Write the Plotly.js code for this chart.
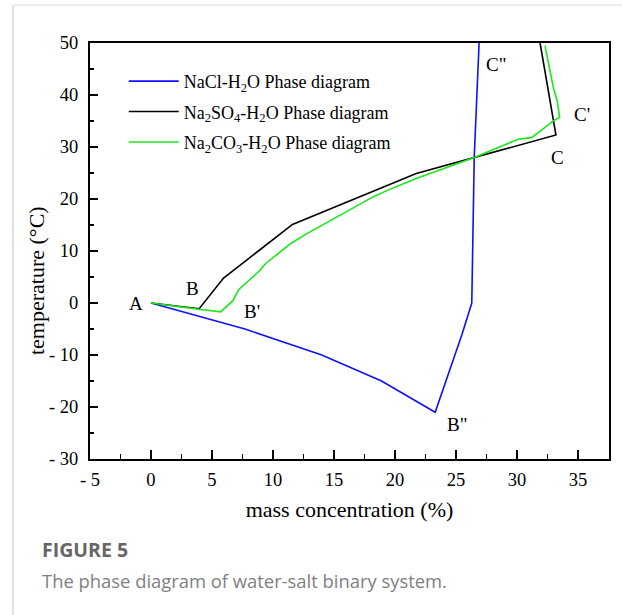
<!DOCTYPE html>
<html>
<head>
<meta charset="utf-8">
<script src="https://cdn.plot.ly/plotly-3.0.1.min.js"></script>
<style>
html,body{margin:0;padding:0;background:#fff;}
#chart{width:622px;height:615px;}
</style>
</head>
<body>
<div id="chart"></div>
<script>
// NaCl-H2O
const naclX = [0, 7.7, 14.0, 18.9, 23.3, 25.5, 26.3, 26.5, 26.9];
const naclY = [0, -5.0, -10.0, -15.0, -21.0, -6.0, 0.0, 28.0, 50.0];
// Na2SO4-H2O
const so4X = [0, 3.95, 5.95, 11.6, 21.75, 26.5, 33.2, 31.9];
const so4Y = [0, -1.1, 4.8, 15.1, 24.9, 28.0, 32.3, 50.0];
// Na2CO3-H2O
const co3X = [0, 2.2, 3.9, 5.7, 6.7, 7.2, 8.9, 9.4, 11.5, 12.6, 18.2, 19.6, 21.8, 26.5, 28.7, 30.1, 31.2, 33.1, 33.5, 33.3, 33.0, 32.3];
const co3Y = [0, -0.6, -1.2, -1.7, 0.4, 2.6, 6.2, 7.6, 11.5, 13.1, 20.4, 21.9, 24.0, 28.0, 30.1, 31.5, 31.8, 35.2, 35.7, 38.9, 41.3, 49.5];

const seriesNames = ["NaCl-H<sub>2</sub>O Phase diagram", "Na<sub>2</sub>SO<sub>4</sub>-H<sub>2</sub>O Phase diagram", "Na<sub>2</sub>CO<sub>3</sub>-H<sub>2</sub>O Phase diagram"];

const xTickVals = [-5, 0, 5, 10, 15, 20, 25, 30, 35];
const xTickText = ["- 5", "0", "5", "10", "15", "20", "25", "30", "35"];
const yTickVals = [-30, -20, -10, 0, 10, 20, 30, 40, 50];
const yTickText = ["- 30", "- 20", "- 10", "0", "10", "20", "30", "40", "50"];

const pointLabels = ["A", "B", "B'", "B\"", "C\"", "C'", "C"];
const pointLabelX = [-1.2, 3.4, 8.3, 25.1, 28.3, 35.3, 33.3];
const pointLabelY = [0, 2.8, -1.6, -23.3, 45.8, 36.2, 28.0];

const serif = "Liberation Serif, Times New Roman, serif";
const sans = "Open Sans, Noto Sans, sans-serif";

const traces = [
  {x: naclX, y: naclY, name: seriesNames[0], legendgroup: "g1", mode: "lines", line: {color: "#1010ff", width: 1.6}},
  {x: so4X, y: so4Y, name: seriesNames[1], legendgroup: "g2", mode: "lines", line: {color: "#000000", width: 1.6}},
  {x: co3X, y: co3Y, name: seriesNames[2], legendgroup: "g3", mode: "lines", line: {color: "#18e818", width: 1.6}}
];

const annotations = pointLabels.map((t, i) => ({
  x: pointLabelX[i], y: pointLabelY[i], xref: "x", yref: "y", text: t, showarrow: false,
  font: {family: serif, size: 19, color: "#000"}
}));
annotations.push({
  xref: "paper", yref: "paper", x: -0.102, y: 0.428, xanchor: "center", yanchor: "middle", textangle: -90,
  text: "temperature (°C)", showarrow: false, font: {family: serif, size: 22, color: "#000"}
});
annotations.push({
  xref: "paper", yref: "paper", x: -0.0964, y: -0.218, xanchor: "left", yanchor: "middle",
  text: "<b>FIGURE 5</b>", showarrow: false, font: {family: sans, size: 19.5, color: "#666666"}
});
annotations.push({
  xref: "paper", yref: "paper", x: -0.0964, y: -0.293, xanchor: "left", yanchor: "middle",
  text: "The phase diagram of water-salt binary system.", showarrow: false,
  font: {family: sans, size: 18.4, color: "#808080"}
});

const layout = {
  width: 622, height: 615,
  margin: {l: 90, r: 13, t: 43, b: 156},
  paper_bgcolor: "#fff", plot_bgcolor: "#fff",
  showlegend: true,
  legend: {x: 0.065, y: 0.952, xanchor: "left", yanchor: "top", bgcolor: "rgba(0,0,0,0)",
           itemwidth: 50, traceorder: "grouped", tracegroupgap: 4,
           font: {family: serif, size: 18, color: "#000"}},
  xaxis: {
    range: [-5, 37.55], tickvals: xTickVals, ticktext: xTickText,
    ticks: "inside", ticklen: 9, tickwidth: 1.5, tickcolor: "#000",
    minor: {dtick: 2.5, tick0: 0, ticks: "inside", ticklen: 5, tickwidth: 1.5, tickcolor: "#000"},
    showline: true, linecolor: "#000", linewidth: 2, mirror: true,
    showgrid: false, zeroline: false, ticklabelstandoff: 3,
    tickfont: {family: serif, size: 18.5, color: "#000"},
    title: {text: "mass concentration (%)", font: {family: serif, size: 22, color: "#000"}, standoff: 12}
  },
  yaxis: {
    range: [-30, 50], tickvals: yTickVals, ticktext: yTickText,
    ticks: "inside", ticklen: 8, tickwidth: 1.5, tickcolor: "#000",
    minor: {dtick: 5, tick0: 0, ticks: "inside", ticklen: 4, tickwidth: 1.5, tickcolor: "#000"},
    showline: true, linecolor: "#000", linewidth: 2, mirror: true,
    showgrid: false, zeroline: false, ticklabelstandoff: 6,
    tickfont: {family: serif, size: 18.5, color: "#000"}
  },
  annotations: annotations,
  shapes: [
    {type: "line", xref: "paper", yref: "paper", x0: -0.1484, x1: -0.1484, y0: -0.4, y1: 1.091,
     line: {color: "#cccccc", width: 1.2}},
    {type: "line", xref: "paper", yref: "paper", x0: -0.1484, x1: 1.03, y0: 1.091, y1: 1.091,
     line: {color: "#e0e0e0", width: 1}}
  ]
};

Plotly.newPlot("chart", traces, layout, {displayModeBar: false, staticPlot: true});
</script>
</body>
</html>
